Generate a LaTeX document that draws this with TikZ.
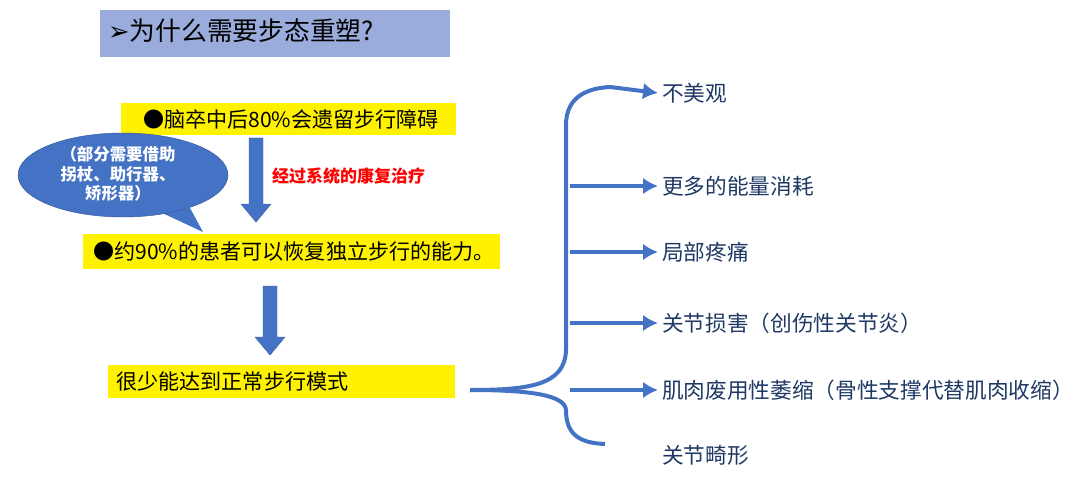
\documentclass[tikz,border=0pt]{standalone}
\usepackage{fontspec}
\setmainfont{Noto Sans CJK SC}
\newfontfamily\symfont{DejaVu Sans}
\usetikzlibrary{shapes.geometric, arrows.meta}
\definecolor{barblue}{HTML}{4472C4}
\definecolor{itemblue}{HTML}{1F3864}
\definecolor{titleblue}{HTML}{9AACDB}
\tikzset{
    hilite/.style={fill=yellow, inner sep=0pt, anchor=west, font=\fontsize{18}{21}\selectfont},
    item/.style={anchor=west, text=itemblue, font=\fontsize{18.5}{21}\selectfont},
    blockarrow/.style={fill=barblue, draw=barblue!80!black, line width=0.4pt},
    branch/.style={-{Latex[length=4.5mm, width=5mm]}, barblue, line width=1.2mm}
}
\newcommand{\downblock}[3]{% x, top y, bottom y
    \path[blockarrow] (#1-7,#2) -- (#1+7,#2) -- (#1+7,#3-18) -- (#1+15,#3-18) -- (#1,#3)
        -- (#1-15,#3-18) -- (#1-7,#3-18) -- cycle;
}
\begin{document}
\begin{tikzpicture}[x=0.03cm, y=-0.03cm]
    \useasboundingbox (0,0) rectangle (1080,478);
    % Title
    \node[fill=titleblue, minimum width=350*0.03cm, minimum height=47*0.03cm, anchor=north west] (Title) at (100,10) {};
    \node[anchor=west, font=\fontsize{22}{26}\selectfont] at (104,31) {{\symfont ➢}为什么需要步态重塑?};
    % Boxes on the left
    \node[hilite, minimum width=335*0.03cm, minimum height=32*0.03cm] (Box-1) at (121,119) {\hspace{4pt}●脑卒中后80\%会遗留步行障碍};
    \node[hilite, minimum width=417*0.03cm, minimum height=35*0.03cm] (Box-2) at (83,251) {\hspace{4pt}●约90\%的患者可以恢复独立步行的能力。};
    \node[hilite, minimum width=347*0.03cm, minimum height=33*0.03cm, text width=340*0.03cm] (Box-3) at (108,381) {\hspace{4pt}很少能达到正常步行模式};
    % Block arrows
    \downblock{256}{138}{222}
    \downblock{270}{286}{355}
    \node[anchor=west, text=red, font=\fontsize{14.5}{17}\selectfont\bfseries] (Therapy) at (268,176) {经过系统的康复治疗};
    % Callout
    \coordinate (Tip) at (203,232);
    \fill[barblue] (160,212) -- (Tip) -- (190,208) -- cycle;
    \node[ellipse, fill=barblue, draw=barblue!80!black, minimum width=210*0.03cm, minimum height=84*0.03cm, inner sep=0pt] (Bubble) at (123,175) {};
    \node[text=white, align=center, font=\fontsize{14}{16.5}\selectfont\bfseries] at (118,174) {（部分需要借助\\拐杖、助行器、\\矫形器）};
    % Outcomes
    \foreach \name/\i/\y in {不美观/1/93, 更多的能量消耗/2/186, 局部疼痛/3/252, 关节损害（创伤性关节炎）/4/323, 肌肉废用性萎缩（骨性支撑代替肌肉收缩）/5/390, 关节畸形/6/455} {
        \node[item] (Item-\i) at (658,\y) {\name};
    }
    % Brace and arrows
    \coordinate (Root) at (470,390);
    \coordinate (Spine) at (570,0);
    \draw[barblue, line width=1.2mm] (Root) .. controls (530,390) and (565,385) .. (566,350) -- (566,125)
        .. controls (566,95) and (590,88) .. (610,87);
    \draw[branch] (610,87) -- (Item-1.west);
    \draw[barblue, line width=1.2mm] (Root) .. controls (530,390) and (565,395) .. (566,410)
        .. controls (566,435) and (580,443) .. (605,444);
    \foreach \i in {2,3,4,5} {
        \draw[branch] (Item-\i.west -| Spine) -- (Item-\i.west);
    }
\end{tikzpicture}
\end{document}
